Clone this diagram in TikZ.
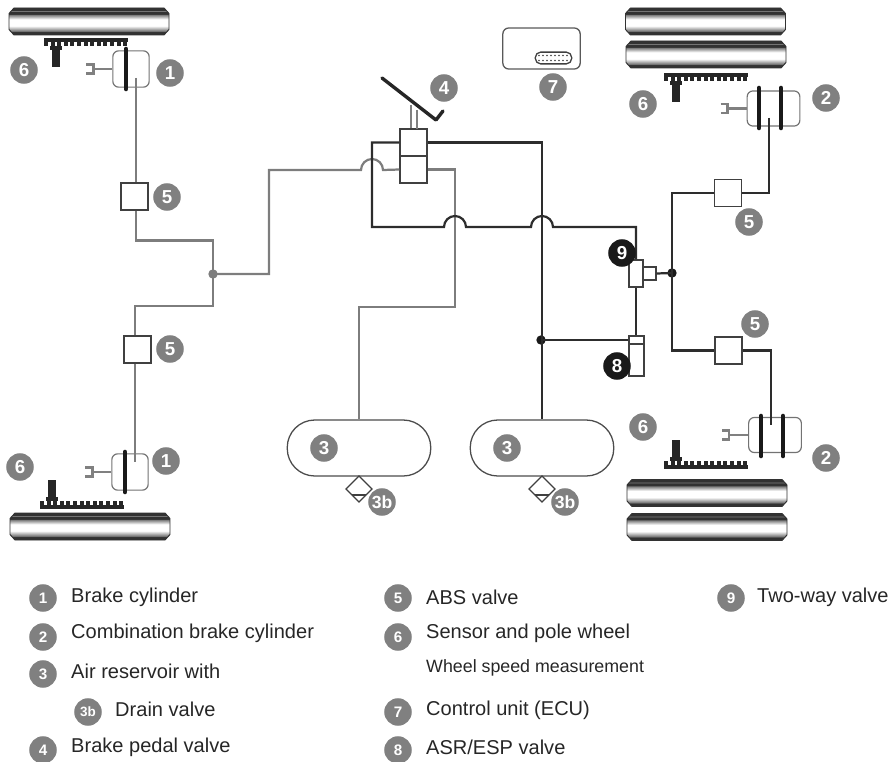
\documentclass[tikz,border=0pt]{standalone}
\usepackage{fontspec}
\setmainfont{Liberation Sans}
\usetikzlibrary{arrows.meta, positioning, shapes.geometric, calc}
\definecolor{badgecol}{RGB}{128,128,128}
\definecolor{airgray}{RGB}{125,125,125}
\definecolor{airdark}{RGB}{45,45,45}
\definecolor{tyredark}{RGB}{50,50,50}
\definecolor{tyremid}{RGB}{120,120,120}
\pgfdeclareverticalshading{tyreshade}{100bp}{
  color(0bp)=(tyredark); color(25bp)=(tyredark); color(30.5bp)=(tyredark); color(32.5bp)=(tyremid);
  color(42bp)=(white); color(54bp)=(white); color(62.5bp)=(tyremid); color(64bp)=(tyredark); color(68bp)=(tyredark);
  color(69.4bp)=(tyremid); color(71bp)=(tyredark); color(75bp)=(tyredark); color(100bp)=(tyredark)}
\tikzset{
  badge/.style={circle, fill=badgecol, text=white, inner sep=0pt, minimum size=23.5pt,
                font=\bfseries\fontsize{16}{16}\selectfont},
  blackbadge/.style={badge, fill=black!90},
  dropbadge/.style={badge, font=\bfseries\fontsize{15}{15}\selectfont},
  keybadge/.style={badge, font=\bfseries\fontsize{13}{13}\selectfont},
  keytext/.style={anchor=west, inner sep=0pt, font=\fontsize{17.1}{19}\selectfont, text=black!85},
  graypipe/.style={draw=airgray, line width=1.9pt},
  darkpipe/.style={draw=airdark, line width=1.9pt},
  valvebox/.style={draw=black!75, fill=white, line width=1.3pt, minimum size=23pt, inner sep=0pt},
  tank/.style={draw=black!70, fill=white, line width=1.1pt, rounded corners=23.5pt,
               minimum width=122.5pt, minimum height=47.8pt, inner sep=0pt},
  cylbody/.style={draw=black!55, fill=white, line width=1pt, rounded corners=5pt, inner sep=0pt},
  cylbar/.style={draw=black!90, line width=3.9pt, line cap=round},
  joint/.style={circle, fill=black!90, inner sep=0pt, minimum size=8pt},
  graydot/.style={circle, fill=airgray, inner sep=0pt, minimum size=8pt},
  % tyre seen from the side
  pics/tyre/.style={code={
    \path[shading=tyreshade, draw=tyredark, line width=0.8pt]
      (-80,-8) -- (-75,-13.5) -- (75,-13.5) -- (80,-8) -- (80,8) -- (75,13.5) -- (-75,13.5) -- (-80,8) -- cycle;
  }},
  % pole wheel with the sensor; #1 is 1 for teeth below, -1 for teeth above
  pics/polewheel/.style={code={
    \begin{scope}[yscale=#1]
      \fill[black!85] (0,0) rectangle (84,4);
      \foreach \i in {0,...,12}
        \fill[black!85] ({\i*6.6},3) rectangle ++(4,5);
      \fill[black!85] (6,8) rectangle ++(12,4);
      \fill[black!85] (8,10) rectangle ++(8,19);
    \end{scope}
  }},
  % fork on the push rod
  pics/pushrod/.style={code={
    \draw[badgecol, line width=2pt] (0,0) -- (-19,0);
    \draw[badgecol, line width=2.2pt] (-26,-4.5) -- (-19,-4.5) -- (-19,4.5) -- (-26,4.5);
  }}
}
\begin{document}
\begin{tikzpicture}[x=0.03cm, y=-0.03cm]
  \useasboundingbox (0,0) rectangle (894,762);

  % tyres
  \foreach \n/\xpos/\ypos in {a/89/21.5, b/705.5/21.5, c/706/54.5, d/90/526.5, e/707/493, f/707/527}
    \pic (ty\n) at (\xpos,\ypos) {tyre};

  % pole wheels and sensors
  \pic (pwa) at (44,38) {polewheel=1};
  \pic (pwb) at (664,73) {polewheel=1};
  \pic (pwc) at (40,509) {polewheel=-1};
  \pic (pwd) at (664,469) {polewheel=-1};

  % brake cylinders
  \node[cylbody, minimum width=31pt, minimum height=31pt] (ca) at (131,69) {};
  \node[cylbody, minimum width=31pt, minimum height=31pt] (cb) at (130,472) {};
  \node[cylbody, minimum width=45pt, minimum height=30pt] (cc) at (773.5,108.5) {};
  \node[cylbody, minimum width=45pt, minimum height=30pt] (cd) at (775,435) {};
  \pic at (ca.west) {pushrod};
  \pic at (cb.west) {pushrod};
  \pic at (cc.west) {pushrod};
  \pic at (cd.west) {pushrod};

  % valves and reservoirs
  \node[valvebox] (va) at (134.5,196.5) {};
  \node[valvebox] (vb) at (137.5,349.5) {};
  \node[valvebox] (vc) at (728,193) {};
  \node[valvebox] (vd) at (728.5,350.5) {};
  \node[valvebox] (pedalu) at (413.5,142.5) {};
  \node[valvebox] (pedald) at (413.5,169.5) {};
  \node[valvebox, minimum size=0pt, minimum width=12pt, minimum height=23pt] (twoway) at (636,273.5) {};
  \node[valvebox, minimum size=0pt, minimum width=11pt, minimum height=11pt] (twowayb) at (649.5,273.5) {};
  \node[valvebox, minimum size=0pt, minimum width=13pt, minimum height=34pt] (asr) at (636.5,356) {};
  \draw[black!75, line width=1.3pt] (asr.west |- 0,344) -- (asr.east |- 0,344);
  \node[tank] (ra) at (359,448) {};
  \node[tank] (rb) at (542,448) {};
  \node[graydot] (tee) at (213,274) {};
  \node[joint] (teeb) at (672,273) {};
  \node[joint] (teec) at (541,340) {};

  % gray circuit
  \coordinate (cyla) at (136,78);
  \coordinate (cylb) at (135,462);
  \draw[graypipe] (cyla) -- (va.north -| cyla);
  \draw[graypipe] (va.south -| cyla) -- (136,240.5) -- (213,240.5) -- (tee.center);
  \draw[graypipe] (tee.center) -- (213,306) -- (135,306) -- (vb.north -| cylb);
  \draw[graypipe] (vb.south -| cylb) -- (cylb);
  \draw[graypipe] (tee.center) -- (269,274) -- (269,170) -- (361,170)
    arc[start angle=180, end angle=360, radius=11] -- (pedald.west);
  \draw[graypipe] (pedald.east) -- (455,169.5) -- (455,307) -- (359,307) -- (ra.north);

  % dark circuit
  \draw[darkpipe] (pedalu.west) -- (372,142.5) -- (372,227) -- (444,227)
    arc[start angle=180, end angle=360, radius=11] -- (531,227)
    arc[start angle=180, end angle=360, radius=11] -- (636,227) -- (twoway.north);
  \draw[darkpipe] (pedalu.east) -- (542,142.5) -- (rb.north);
  \draw[darkpipe] (twoway.south) -- (asr.north -| twoway);
  \draw[darkpipe] (teec.center) -- (teec -| asr.west);
  \draw[darkpipe] (twowayb.east) -- (teeb.center);
  \draw[darkpipe] (769,118) -- (769,193) -- (vc.east);
  \draw[darkpipe] (vc.west) -- (672,193) -- (teeb.center);
  \draw[darkpipe] (teeb.center) -- (672,350.5) -- (vd.west);
  \draw[darkpipe] (vd.east) -- (771,350.5) -- (771,425);

  % cylinder bars
  \draw[cylbar] (126,49) -- (126,89);
  \draw[cylbar] (125,452) -- (125,492);
  \draw[cylbar] (759,88) -- (759,128);
  \draw[cylbar] (781,88) -- (781,128);
  \draw[cylbar] (761,416) -- (761,456);
  \draw[cylbar] (783,416) -- (783,456);

  % pedal
  \coordinate (rodt) at (411,105);
  \draw[badgecol, line width=1.5pt] (rodt) -- (rodt |- pedalu.north);
  \draw[badgecol, line width=1.5pt] (417,110) -- (417,129);
  \draw[black!85, line width=2.9pt, line cap=round, line join=round]
    (382,78) -- (436,120) -- (443,111);

  % drain valves
  \foreach \n/\xpos in {a/359, b/542} {
    \node[diamond, draw=black!75, fill=white, line width=1pt, minimum size=22.5pt, inner sep=0pt]
      (dr\n) at (\xpos,489) {};
    \draw[black!75, line width=1pt] (\xpos-7,495) -- (\xpos+7,495);
  }

  % control unit
  \node[draw=black!65, fill=white, line width=1.1pt, rounded corners=5pt, minimum width=66pt,
        minimum height=35pt, inner sep=0pt] (ecu) at (541.5,48.5) {};
  \node[draw=black!75, fill=white, line width=1.1pt, rounded corners=4.5pt, minimum width=31pt,
        minimum height=10pt, inner sep=0pt] (plug) at (553.5,58) {};
  \foreach \i in {0,...,7}
    \fill[black!75] ({539+\i*4},55.5) circle (0.9);
  \foreach \i in {0,...,7}
    \fill[black!75] ({539+\i*4},60.5) circle (0.9);

  % numbers
  \foreach \n/\xpos/\ypos/\t in {a/24/70/6, b/170/73/1, c/167/197/5, d/170/349/5, e/20/467/6, f/166/461/1,
      g/444/88/4, h/553/87/7, i/643/104/6, j/826/98/2, k/749/222/5, l/755/324/5,
      m/643/427/6, n/826/458/2, o/324/448/3, p/507/448/3}
    \node[badge] (no\n) at (\xpos,\ypos) {\t};
  \node[blackbadge] (nonine) at (622,253) {9};
  \node[blackbadge] (noeight) at (617,366) {8};
  \node[dropbadge] (nodra) at (382,502) {3b};
  \node[dropbadge] (nodrb) at (565,502) {3b};

  % key
  \foreach \n/\xpos/\ypos/\ty/\t/\lab in {a/43/598/597/1/Brake cylinder, b/43/637/633/2/Combination brake cylinder,
      c/43/674/671/3/Air reservoir with, e/43/750/747/4/Brake pedal valve, f/398/598/597/5/ABS valve,
      g/398/637/633/6/Sensor and pole wheel, h/398/712/710/7/Control unit (ECU), i/398/750/747/8/{ASR/ESP valve}} {
    \node[keybadge] (key\n) at (\xpos,\ypos) {\t};
    \node[keytext] (lab\n) at (\xpos+28,\ty) {\lab};
  }
  \node[keybadge] (keyj) at (731,598) {9};
  \node[keytext] (labj) at (757,597) {Two-way valve};
  \node[keybadge, font=\bfseries\fontsize{11.5}{12}\selectfont] (keyd) at (88,712) {3b};
  \node[keytext] (labd) at (115,709) {Drain valve};
  \node[keytext, font=\fontsize{15.2}{17}\selectfont] (labk) at (426,668) {Wheel speed measurement};
\end{tikzpicture}
\end{document}
